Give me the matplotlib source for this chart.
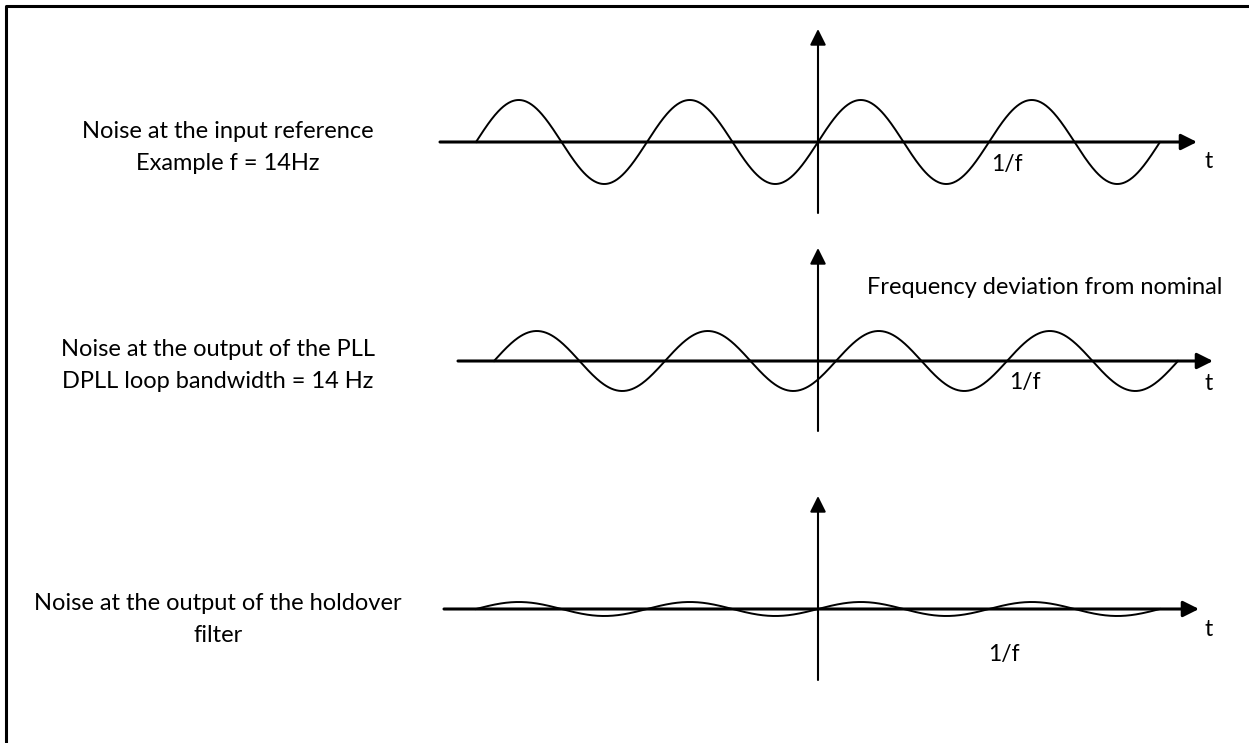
import numpy as np
import matplotlib
matplotlib.use('Agg')
import matplotlib.pyplot as plt

plt.rcParams['font.family'] = ['Lato', 'DejaVu Sans']

# panel data (pixel units of the original drawing)
left_labels = [
    ["Noise at the input reference", "Example f = 14Hz"],
    ["Noise at the output of the PLL", "DPLL loop bandwidth = 14 Hz"],
    ["Noise at the output of the holdover", "filter"],
]
label_x = [228, 218, 218]
label_y = [(131, 163), (350, 382), (603, 635)]
axis_y = [142, 361, 609]
axis_x0 = [440, 458, 444]
axis_x1 = [1197, 1213, 1199]
vert_top = [29, 248, 496]
vert_bottom = [213, 431, 680]
wave_amp = [42, 30, 7]
wave_shift = [0, 18, 0]
wave_period = 171
n_periods = 2
inv_f_pos = [(1007, 164), (1025, 383), (1004, 654)]
t_y = [162, 383, 629]
origin_x = 818

fig = plt.figure(figsize=(12.49, 7.43), dpi=100)
ax = fig.add_axes([0, 0, 1, 1])
ax.set_xlim(0, 1249)
ax.set_ylim(743, 0)
ax.axis('off')

# frame (top and left edges only)
ax.plot([6, 6, 1249], [743, 6, 6], color='black', lw=2.2, solid_capstyle='butt')

arrow_kw = dict(arrowstyle='-|>', color='black', lw=1.5, mutation_scale=24,
                shrinkA=0, shrinkB=0)

for i in range(3):
    y0 = axis_y[i]
    # time axis
    ax.annotate("", xy=(axis_x1[i], y0), xytext=(axis_x0[i], y0),
                arrowprops=dict(arrow_kw, lw=2.2))
    # vertical axis
    ax.annotate("", xy=(origin_x, vert_top[i]), xytext=(origin_x, vert_bottom[i]),
                arrowprops=arrow_kw)
    # sine wave
    xc = origin_x + wave_shift[i]
    x = np.linspace(xc - n_periods * wave_period, xc + n_periods * wave_period, 800)
    y = y0 - wave_amp[i] * np.sin(2 * np.pi * (x - xc) / wave_period)
    ax.plot(x, y, color='black', lw=1.4)

    ax.text(inv_f_pos[i][0], inv_f_pos[i][1], "1/f", fontsize=16.5,
            ha='center', va='center')
    ax.text(1209, t_y[i], "t", fontsize=16.5, ha='center', va='center')

    for line, ly in zip(left_labels[i], label_y[i]):
        ax.text(label_x[i], ly, line, fontsize=17, ha='center', va='center')

ax.text(867, 287, "Frequency deviation from nominal", fontsize=17,
        ha='left', va='center')

fig.savefig('out.png', dpi=100)
